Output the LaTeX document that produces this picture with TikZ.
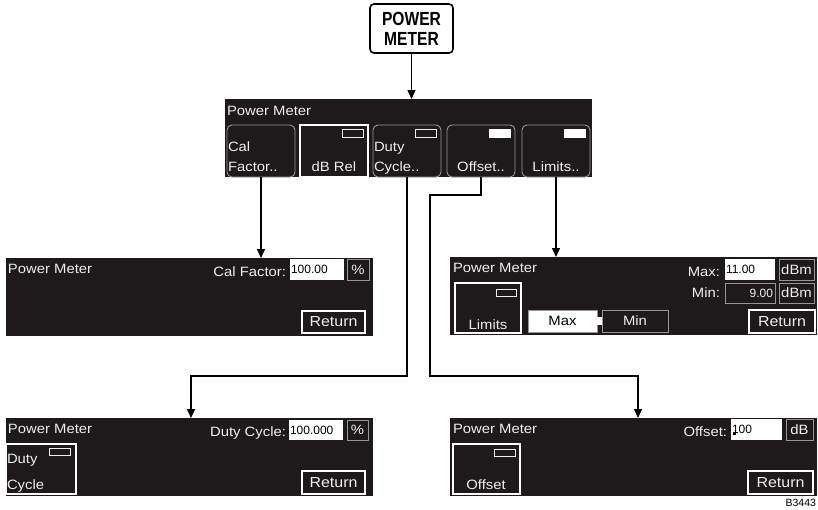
\documentclass[tikz,border=0pt]{standalone}
\usepackage{fontspec}
\setmainfont{Liberation Sans}
\newfontfamily\lcdfont[FakeStretch=1.1]{Liberation Sans}
\newfontfamily\capfont[FakeStretch=0.82]{Liberation Sans Bold}
\usetikzlibrary{arrows.meta,positioning,calc}
\definecolor{lcdbg}{RGB}{30,26,27}
\definecolor{keygray}{RGB}{150,150,150}
\definecolor{lcdtext}{RGB}{238,238,238}

\begin{document}
\begin{tikzpicture}[x=1pt, y=-1pt, line width=1.4pt,
    >={Triangle[length=9pt,width=8pt]},
    every node/.style={inner sep=0pt, outer sep=0pt},
    lcd/.style={font=\lcdfont\fontsize{13.5}{14}\selectfont, text=lcdtext},
    screen/.style={fill=lcdbg, anchor=north west, minimum width=367, minimum height=78},
    softkey/.style={draw=keygray, line width=0.9pt, rounded corners=5pt, fill=lcdbg,
        anchor=north west, minimum width=68, minimum height=52},
    selkey/.style={draw=white, line width=2.2pt, fill=lcdbg, anchor=north west},
    ind/.style={draw=lcdtext, line width=0.8pt, fill=lcdbg, anchor=north east,
        minimum width=21, minimum height=8},
    indon/.style={ind, fill=white, draw=white},
    field/.style={fill=white, anchor=north west, minimum height=21},
    fieldtxt/.style={font=\fontsize{12}{13}\selectfont, text=black},
    unitbox/.style={lcd, draw=keygray, line width=1pt, fill=lcdbg, anchor=north west, minimum height=21},
    retbtn/.style={lcd, font=\lcdfont\fontsize{14.5}{15}\selectfont, draw=white, line width=2.2pt,
        fill=lcdbg, anchor=north west, minimum width=63, minimum height=22}]

\useasboundingbox (0,0) rectangle (818,509);

% ==================== HARD KEY ====================
\node[draw, line width=1.6pt, rounded corners=4pt, minimum width=83, minimum height=49,
    align=center, font=\capfont\fontsize{19}{20}\selectfont] (pm) at (411.5,28.5) {POWER\\METER};

% ==================== MAIN MENU ====================
\node[screen] (main) at (225,99) {};
\node[lcd, anchor=base west] (mainttl) at (227,115) {Power Meter};

\node[softkey] (calkey) at (227,125) {};
\node[selkey, minimum width=68, minimum height=52] (dbkey) at (300,125) {};
\node[softkey] (dutykey) at (373,125) {};
\node[softkey] (offkey) at (447,125) {};
\node[softkey] (limkey) at (522,125) {};

% indicators
\node[ind] (dbind) at ([xshift=-5pt,yshift=-4pt]dbkey.north east) {};
\node[ind] (dutyind) at ([xshift=-5pt,yshift=-4pt]dutykey.north east) {};
\node[indon] (offind) at ([xshift=-5pt,yshift=-4pt]offkey.north east) {};
\node[indon] (limind) at ([xshift=-5pt,yshift=-4pt]limkey.north east) {};

% key labels
\node[lcd, anchor=base west] (calt1) at (228,151) {Cal};
\node[lcd, anchor=base west] (calt2) at (228,171) {Factor..};
\node[lcd, anchor=base] (dbt) at (334,171) {dB Rel};
\node[lcd, anchor=base west] (dutyt1) at (374,151) {Duty};
\node[lcd, anchor=base west] (dutyt2) at (374,171) {Cycle..};
\node[lcd, anchor=base] (offt) at (481,171) {Offset..};
\node[lcd, anchor=base] (limt) at (556,171) {Limits..};

% ==================== CAL FACTOR ====================
\node[screen] (calscr) at (6,258) {};
\node[lcd, anchor=base west] (calttl) at (8,273) {Power Meter};
\node[lcd, anchor=base east] (callbl) at (286,276) {Cal Factor:};
\node[field, minimum width=54] (calfld) at (290,259) {};
\node[fieldtxt, anchor=west] at ([xshift=1pt]calfld.west) {100.00};
\node[unitbox, minimum width=22] (calunit) at (347,259) {\%};
\node[retbtn] (calret) at (302,311) {Return};

% ==================== LIMITS ====================
\node[screen] (limscr) at (450,257) {};
\node[lcd, anchor=base west] (limttl) at (453,272) {Power Meter};
\node[lcd, anchor=base east] (maxlbl) at (720,276) {Max:};
\node[field, minimum width=50] (maxfld) at (725,259) {};
\node[fieldtxt, anchor=west] at ([xshift=1pt]maxfld.west) {11.00};
\node[unitbox, minimum width=35] (maxunit) at (779,259) {dBm};
\node[lcd, anchor=base east] (minlbl) at (720,297) {Min:};
\node[unitbox, minimum width=50, minimum height=20] (minfld) at (725,283) {};
\node[lcd, font=\fontsize{12}{13}\selectfont, anchor=east] at ([xshift=-2pt]minfld.east) {9.00};
\node[unitbox, minimum width=35, minimum height=20] (minunit) at (779,283) {dBm};

\node[selkey, minimum width=66, minimum height=50] (limsk) at (455,283) {};
\node[ind, minimum width=20, minimum height=7] at ([xshift=-5pt,yshift=-6pt]limsk.north east) {};
\node[lcd, anchor=base] (limskt) at (488,329) {Limits};

\node[draw=keygray, line width=1pt, fill=white, anchor=north west, minimum width=69, minimum height=22,
    font=\lcdfont\fontsize{13.5}{14}\selectfont] (maxbtn) at (528,310) {Max};
\node[unitbox, minimum width=66, minimum height=22] (minbtn) at (602,310) {Min};
\fill[white] ([yshift=4pt]maxbtn.east) rectangle ([yshift=-4pt]minbtn.west);
\node[retbtn, minimum width=66, minimum height=23] (limret) at (749,310) {Return};

% ==================== DUTY CYCLE ====================
\node[screen] (dutyscr) at (6,418) {};
\node[lcd, anchor=base west] (dutyttl) at (8,433) {Power Meter};
\node[lcd, anchor=base east] (dutylbl) at (286,436) {Duty Cycle:};
\node[field, minimum width=54, minimum height=20] (dutyfld) at (289,420) {};
\node[fieldtxt, anchor=west] at ([xshift=1pt]dutyfld.west) {100.000};
\node[unitbox, minimum width=21, minimum height=20] (dutyunit) at (347,420) {\%};

\node[selkey, minimum width=70, minimum height=50] (dutysk) at (6,444) {};
\node[ind, minimum height=7] at ([xshift=-6pt,yshift=-4pt]dutysk.north east) {};
\node[lcd, anchor=base west] (dutyskt1) at (7,463) {Duty};
\node[lcd, anchor=base west] (dutyskt2) at (7,489) {Cycle};
\node[retbtn, minimum height=23] (dutyret) at (302,471) {Return};

% ==================== OFFSET ====================
\node[screen] (offscr) at (450,418) {};
\node[lcd, anchor=base west] (offttl) at (453,433) {Power Meter};
\node[lcd, anchor=base east] (offlbl) at (727,436) {Offset:};
\node[field, minimum width=51] (offfld) at (731,419) {};
\node[fieldtxt, anchor=west] (offval) at ([xshift=1pt]offfld.west) {100};
\fill[black] ([xshift=1pt,yshift=-1pt]offval.south west) rectangle ++(3,-2);
\node[unitbox, minimum width=27] (offunit) at (786,419) {dB};

\node[selkey, minimum width=67, minimum height=50] (offsk) at (453,444) {};
\node[ind, minimum height=7] at ([xshift=-5pt,yshift=-5pt]offsk.north east) {};
\node[lcd, anchor=base] (offskt) at (486,489) {Offset};
\node[retbtn, minimum width=65, minimum height=23] (offret) at (748,471) {Return};

\node[anchor=base east, font=\fontsize{10.5}{11}\selectfont] (fig) at (816,506) {B3443};

% ==================== CONNECTORS ====================
\coordinate (dutybend) at (191,376);
\coordinate (offa) at (430,195);
\coordinate (offb) at (638,376);

\draw[->] (pm.south) -- (pm.south |- main.north);
\draw[->] (calkey.south) -- (calkey.south |- calscr.north);
\draw[->] (limkey.south) -- (limkey.south |- limscr.north);
\draw[->] (dutykey.south) |- (dutybend) -- (dutybend |- dutyscr.north);
\draw[->] (offkey.south) |- (offa) |- (offb) -- (offb |- offscr.north);

\end{tikzpicture}
\end{document}
